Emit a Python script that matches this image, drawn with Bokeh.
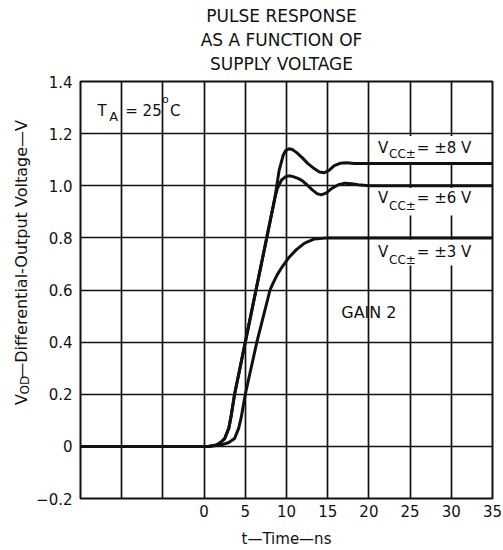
import math
from bokeh.plotting import figure
from bokeh.layouts import column, row
from bokeh.models import Label, BoxAnnotation, FixedTicker, Range1d
from bokeh.embed import file_html
from bokeh.resources import INLINE

# ---------------- data ----------------
t_8v = [-15, 0.5, 1.5, 2.0, 2.5, 3.0, 3.3, 3.7, 5.0, 7.6, 8.6, 9.1, 9.6, 9.9, 10.3, 10.7,
        11.2, 11.9, 12.6, 13.4, 14.0, 14.6, 15.2, 15.8, 16.5, 17.3, 18.2, 19.1, 35]
v_8v = [0, 0, 0.005, 0.015, 0.03, 0.07, 0.12, 0.2, 0.4, 0.8, 0.955, 1.058, 1.117, 1.135, 1.142, 1.139,
        1.128, 1.108, 1.085, 1.065, 1.053, 1.05, 1.06, 1.077, 1.086, 1.088, 1.085, 1.085, 1.085]

t_6v = [-15, 0.5, 1.5, 2.0, 2.5, 3.0, 3.3, 3.7, 5.0, 7.6, 8.6, 8.9, 9.4, 9.9, 10.3, 10.8,
        11.4, 11.9, 12.5, 13.1, 13.7, 14.2, 14.8, 15.5, 16.3, 17.1, 17.9, 18.7, 20, 35]
v_6v = [0, 0, 0.005, 0.015, 0.03, 0.07, 0.12, 0.2, 0.4, 0.8, 0.955, 0.99, 1.022, 1.035, 1.038, 1.035,
        1.028, 1.02, 1.003, 0.985, 0.97, 0.965, 0.972, 0.99, 1.004, 1.01, 1.008, 1.004, 1.0, 1.0]

t_3v = [-15, 0.8, 2.0, 3.0, 3.7, 4.2, 4.5, 5.0, 6.4, 8.0, 8.4, 8.9, 9.5, 10.3, 11.2, 12.2, 13.4, 15.0, 35]
v_3v = [0, 0, 0.005, 0.015, 0.03, 0.07, 0.11, 0.2, 0.4, 0.6, 0.628, 0.66, 0.69, 0.725, 0.755, 0.78, 0.796, 0.80, 0.80]

x_grid_ticks = [-15, -10, -5, 0, 5, 10, 15, 20, 25, 30, 35]
x_tick_values = [0, 5, 10, 15, 20, 25, 30, 35]
y_tick_values = [-0.2, 0.0, 0.2, 0.4, 0.6, 0.8, 1.0, 1.2, 1.4]
y_tick_labels = ["\u22120.2", "0", "0.2", "0.4", "0.6", "0.8", "1.0", "1.2", "1.4"]

title_lines = ["PULSE RESPONSE", "AS A FUNCTION OF", "SUPPLY VOLTAGE"]
series_values = ["\u00b18 V", "\u00b16 V", "\u00b13 V"]
x_label = "t\u2014Time\u2014ns"
y_label_main = "V"
y_label_sub = "OD"
y_label_rest = "\u2014Differential-Output Voltage\u2014V"
gain_text = "GAIN 2"

# ---------------- layout (page pixels; the page is drawn from its top-left corner) ----------------
TOTAL_W, TOTAL_H = 503, 550
TH = 73            # title strip height
YLW = 33           # y-label strip width
W, H = TOTAL_W - YLW, TOTAL_H - TH
BL, BR, BT, BB = 45, 11, 8, 52
X0, X1 = -15, 35
Y0, Y1 = -0.2, 1.4
FW = W - BL - BR
FH = H - BT - BB
FONT = "DejaVu Sans"
INK = "#111111"
OX, OY = YLW, TH   # page position of the main figure
KB = 0.32          # label baseline correction (fraction of font size)


def dx(px):
    return X0 + (px - OX - BL) / FW * (X1 - X0)


def dy(py):
    return Y1 - (py - OY - BT) / FH * (Y1 - Y0)


def blank_fig(w, h):
    f = figure(width=w, height=h, x_range=Range1d(0, w), y_range=Range1d(0, h),
               output_backend="svg", toolbar_location=None,
               x_axis_location=None, y_axis_location=None, min_border=0,
               min_border_left=0, min_border_right=0, min_border_top=0, min_border_bottom=0)
    f.grid.visible = False
    f.outline_line_color = None
    f.background_fill_color = "white"
    f.border_fill_color = "white"
    return f


# ---- title strip (page y 0..TH) ----
tf = blank_fig(TOTAL_W, TH)
for line, base in zip(title_lines, (21, 45, 69)):
    tf.add_layout(Label(x=281, y=TH - (base - KB * 17), text=line, text_font=FONT,
                        text_font_size="17px", text_color=INK, text_align="center",
                        text_baseline="alphabetic"))

# ---- y-label strip (page x 0..YLW, y TH..TOTAL_H) ----
yf = blank_fig(YLW, H)
for px, py, txt, size in ((26, 443, y_label_main, 16), (28.5, 431, y_label_sub, 12),
                          (26, 413, y_label_rest, 16)):
    yf.add_layout(Label(x=px - KB * size, y=TOTAL_H - py, text=txt, text_font=FONT,
                        text_font_size=f"{size}px", text_color=INK, text_align="left",
                        text_baseline="alphabetic", angle=math.pi / 2))

# ---- main plot ----
p = figure(width=W, height=H, x_range=Range1d(X0, X1), y_range=Range1d(Y0, Y1),
           output_backend="svg", toolbar_location=None,
           min_border_left=BL, min_border_right=BR, min_border_top=BT, min_border_bottom=BB)
p.background_fill_color = "white"
p.border_fill_color = "white"
p.outline_line_color = INK
p.outline_line_width = 2

p.xgrid.ticker = FixedTicker(ticks=x_grid_ticks)
p.ygrid.ticker = FixedTicker(ticks=y_tick_values)
for g in (p.xgrid, p.ygrid):
    g.grid_line_color = INK
    g.grid_line_width = 1.7

p.xaxis.ticker = FixedTicker(ticks=x_tick_values)
p.yaxis.ticker = FixedTicker(ticks=y_tick_values)
p.yaxis.major_label_overrides = dict(zip(y_tick_values, y_tick_labels))
for ax in (p.xaxis, p.yaxis):
    ax.axis_line_color = None
    ax.major_tick_line_color = None
    ax.minor_tick_line_color = None
    ax.major_tick_out = 0
    ax.major_tick_in = 0
    ax.major_label_text_font = FONT
    ax.major_label_text_font_size = "15px"
    ax.major_label_text_color = INK
p.xaxis.major_label_standoff = 6
p.yaxis.major_label_standoff = 8
p.xaxis.axis_label = x_label
p.xaxis.axis_label_text_font = FONT
p.xaxis.axis_label_text_font_size = "15px"
p.xaxis.axis_label_text_font_style = "normal"
p.xaxis.axis_label_text_color = INK
p.xaxis.axis_label_standoff = 10

# white masks behind the supply-voltage labels (cover the grid, under the curves)
for top, bot in ((135.5, 161.5), (187.5, 215.0), (239.0, 265.0)):
    p.add_layout(BoxAnnotation(left=dx(370), right=dx(489), top=dy(top), bottom=dy(bot),
                               fill_color="white", fill_alpha=1.0, line_color=None,
                               level="underlay"))

for t, v in ((t_3v, v_3v), (t_6v, v_6v), (t_8v, v_8v)):
    p.line(t, v, line_color=INK, line_width=3, line_join="round", line_cap="round")


def lab(px, py, text, size, align="left"):
    p.add_layout(Label(x=dx(px), y=dy(py - KB * size), text=text, text_font=FONT,
                       text_font_size=f"{size}px", text_color=INK, text_align=align,
                       text_baseline="alphabetic"))


# T_A = 25 °C
lab(95, 115, "T", 15)
lab(107, 120, "A", 13)
lab(123, 115, "= 25", 15)
lab(160, 103, "o", 11)
lab(168, 115, "C", 15)

# supply voltage labels
for val, base, sub_drop in zip(series_values, (152, 202, 256), (5.5, 7, 7)):
    lab(377, base, "V", 15)
    lab(388, base + sub_drop, "CC\u00b1", 12)
    lab(416, base, "= " + val, 15)

lab(340, 317, gain_text, 16)

layout = column(tf, row(yf, p))
open("out.html", "w").write(file_html(layout, INLINE))
